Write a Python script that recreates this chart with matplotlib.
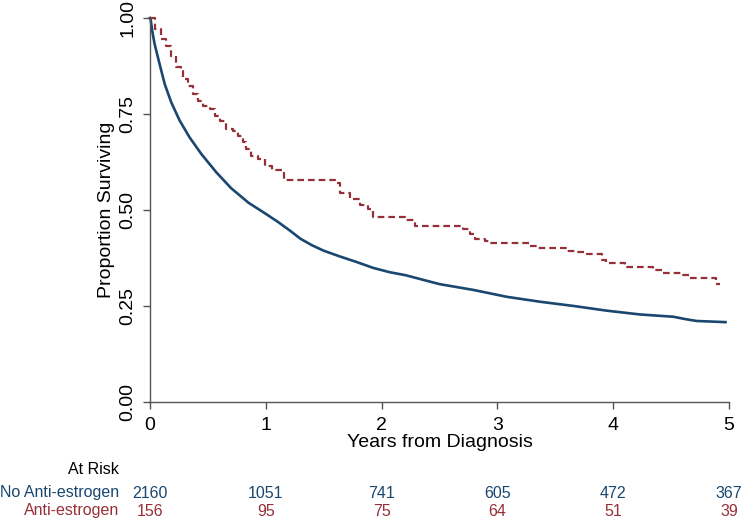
import matplotlib
matplotlib.use("Agg")
import matplotlib.pyplot as plt
import matplotlib.transforms as mtransforms

plt.rcParams['font.family'] = ['Liberation Sans', 'DejaVu Sans']

# Kaplan-Meier estimates
t_no = [0, 0.006, 0.02, 0.04, 0.083, 0.127, 0.184, 0.256, 0.342, 0.443, 0.573, 0.70, 0.85,
        1.0, 1.10, 1.21, 1.30, 1.40, 1.50, 1.64, 1.78, 1.93, 2.07, 2.21, 2.36, 2.50, 2.79,
        3.08, 3.37, 3.66, 3.94, 4.23, 4.52, 4.62, 4.72, 4.97]
s_no = [1.0, 0.995, 0.965, 0.932, 0.880, 0.828, 0.780, 0.733, 0.689, 0.646, 0.598, 0.557, 0.519,
        0.490, 0.470, 0.446, 0.425, 0.408, 0.394, 0.379, 0.365, 0.349, 0.338, 0.330, 0.318, 0.307,
        0.292, 0.274, 0.261, 0.250, 0.238, 0.228, 0.222, 0.216, 0.211, 0.208]

t_ae = [0, 0.04, 0.098, 0.141, 0.184, 0.227, 0.27, 0.285, 0.328, 0.371, 0.415, 0.458, 0.515,
        0.558, 0.601, 0.659, 0.717, 0.76, 0.803, 0.832, 0.875, 0.933, 0.99, 1.05, 1.16,
        1.60, 1.64, 1.73, 1.81, 1.88, 1.93, 2.20, 2.29, 2.705, 2.76, 2.81, 2.89, 2.94,
        3.28, 3.34, 3.60, 3.67, 3.77, 3.90, 3.94, 4.10, 4.34, 4.43, 4.60, 4.66, 4.89, 4.92]
s_ae = [1.0, 0.971, 0.945, 0.928, 0.902, 0.872, 0.863, 0.841, 0.824, 0.802, 0.785, 0.772, 0.763,
        0.746, 0.733, 0.711, 0.707, 0.693, 0.676, 0.659, 0.641, 0.633, 0.615, 0.604, 0.578,
        0.570, 0.543, 0.528, 0.513, 0.502, 0.483, 0.474, 0.458, 0.450, 0.437, 0.425, 0.420, 0.413,
        0.407, 0.402, 0.394, 0.390, 0.385, 0.370, 0.361, 0.351, 0.344, 0.337, 0.332, 0.322, 0.306, 0.306]

risk_times = [0, 1, 2, 3, 4, 5]
risk_no = [2160, 1051, 741, 605, 472, 367]
risk_ae = [156, 95, 75, 64, 51, 39]

blue = '#1a476f'
red = '#963038'

fig = plt.figure(figsize=(7.42, 5.20), dpi=100)
ax = fig.add_axes([150/742, 1 - 402/520, 579/742, 384/520])

ax.plot(t_no, s_no, color=blue, lw=1.9, clip_on=False)
ax.plot(t_ae, s_ae, color=red, lw=1.6, drawstyle='steps-post',
        linestyle=(0, (3, 1.8)), clip_on=False)

ax.set_xlim(0, 5)
ax.set_ylim(0, 1)
ax.set_xticks([0, 1, 2, 3, 4, 5])
ax.set_yticks([0, 0.25, 0.5, 0.75, 1.0])
ax.set_yticklabels(['0.00', '0.25', '0.50', '0.75', '1.00'], rotation=90, va='center')
for s in ['top', 'right']:
    ax.spines[s].set_visible(False)
for s in ['left', 'bottom']:
    ax.spines[s].set_color('#555555')
    ax.spines[s].set_linewidth(1.0)
ax.tick_params(direction='out', length=5, width=1.0, color='#555555', labelsize=14, pad=5)
ax.tick_params(axis='x', pad=6)
ax.set_xlabel('Years from Diagnosis', fontsize=14, labelpad=0)
ax.set_ylabel('Proportion Surviving', fontsize=14, labelpad=3)

# number at risk table
trans = mtransforms.blended_transform_factory(ax.transData, fig.transFigure)
fig.text(119/742, 1 - 470/520, 'At Risk', ha='right', va='center', fontsize=11.5)
fig.text(119/742, 1 - 493/520, 'No Anti-estrogen', ha='right', va='center', fontsize=11.5, color=blue)
fig.text(119/742, 1 - 511/520, 'Anti-estrogen', ha='right', va='center', fontsize=11.5, color=red)
for x, a, b in zip(risk_times, risk_no, risk_ae):
    ax.text(x, 1 - 493/520, str(a), transform=trans, ha='center', va='center', fontsize=11.5, color=blue)
    ax.text(x, 1 - 511/520, str(b), transform=trans, ha='center', va='center', fontsize=11.5, color=red)

fig.savefig('out.png', dpi=100)
